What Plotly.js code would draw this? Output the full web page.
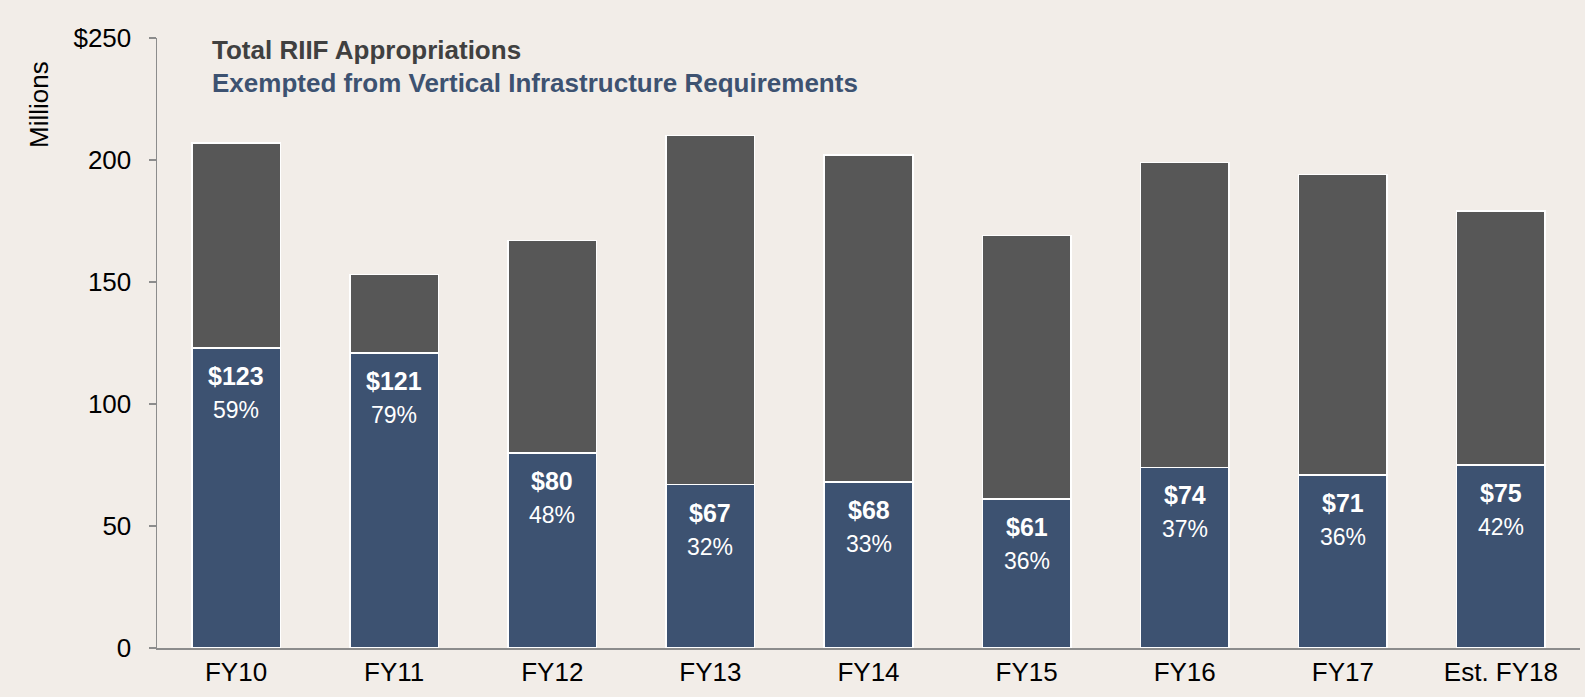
<!DOCTYPE html>
<html>
<head>
<meta charset="utf-8">
<script src="https://cdn.plot.ly/plotly-3.0.1.min.js"></script>
<style>
  body { margin: 0; background: #f2ede8; }
  #chart { width: 1585px; height: 697px; }
</style>
</head>
<body>
<div id="chart"></div>
<script>
// fiscal years on the x axis
var years = ['FY10', 'FY11', 'FY12', 'FY13', 'FY14', 'FY15', 'FY16', 'FY17', 'Est. FY18'];
// total RIIF appropriations, $ millions
var totals = [207, 153, 167, 210, 202, 169, 199, 194, 179];
// amount exempted from vertical infrastructure requirements, $ millions
var exempted = [123, 121, 80, 67, 68, 61, 74, 71, 75];
// share exempted as printed on the bars
var shares = ['59%', '79%', '48%', '32%', '33%', '36%', '37%', '36%', '42%'];

var blue = '#3d5271';
var gray = '#575757';

// the gray part is whatever is left above the exempted part
var rest = totals.map((t, i) => t - exempted[i]);

var traces = [
    {
        x: years,
        y: exempted,
        type: 'bar',
        name: 'Exempted from Vertical Infrastructure Requirements',
        marker: { color: blue, line: { color: '#ffffff', width: 1.5 } },
        hoverinfo: 'skip'
    },
    {
        x: years,
        y: rest,
        type: 'bar',
        name: 'Total RIIF Appropriations',
        marker: { color: gray, line: { color: '#ffffff', width: 1.5 } },
        hoverinfo: 'skip'
    }
];

// value and share labels inside the blue bars
var annotations = [];
years.forEach(function(yr, i) {
    annotations.push({
        x: yr, y: exempted[i], xref: 'x', yref: 'y',
        text: '<b>$' + exempted[i] + '</b>',
        showarrow: false, yanchor: 'middle', yshift: -28,
        font: { family: 'Liberation Sans, Arial, sans-serif', size: 25, color: '#ffffff' }
    });
    annotations.push({
        x: yr, y: exempted[i], xref: 'x', yref: 'y',
        text: shares[i],
        showarrow: false, yanchor: 'middle', yshift: -62,
        font: { family: 'Liberation Sans, Arial, sans-serif', size: 23, color: '#ffffff' }
    });
});

// legend written as two coloured lines at the top left
annotations.push({
    xref: 'paper', yref: 'paper', x: 0.037, y: 1.0, xanchor: 'left', yanchor: 'middle', yshift: -12,
    text: '<b>Total RIIF Appropriations</b>', showarrow: false,
    font: { family: 'Liberation Sans, Arial, sans-serif', size: 26, color: '#404040' }
});
annotations.push({
    xref: 'paper', yref: 'paper', x: 0.037, y: 1.0, xanchor: 'left', yanchor: 'middle', yshift: -45,
    text: '<b>Exempted from Vertical Infrastructure Requirements</b>', showarrow: false,
    font: { family: 'Liberation Sans, Arial, sans-serif', size: 26, color: blue }
});

// "Millions" unit label
annotations.push({
    xref: 'paper', yref: 'paper', x: 0, y: 1.0, xanchor: 'center', yanchor: 'middle',
    xshift: -118, yshift: -67, textangle: -90,
    text: 'Millions', showarrow: false,
    font: { family: 'Liberation Sans, Arial, sans-serif', size: 26, color: '#000000' }
});

var layout = {
    width: 1585,
    height: 697,
    barmode: 'stack',
    bargap: 0.44,
    showlegend: false,
    paper_bgcolor: '#f2ede8',
    plot_bgcolor: '#f2ede8',
    margin: { l: 157, r: 5, t: 38, b: 49 },
    font: { family: 'Liberation Sans, Arial, sans-serif', color: '#000000' },
    xaxis: {
        type: 'category',
        showline: true,
        linecolor: '#8c8c8c',
        linewidth: 1.5,
        ticks: '',
        tickfont: { size: 26, color: '#000000' },
        ticklabelstandoff: 0
    },
    yaxis: {
        range: [0, 250],
        tickvals: [0, 50, 100, 150, 200, 250],
        ticktext: ['0', '50', '100', '150', '200', '$250'],
        showgrid: false,
        zeroline: false,
        showline: true,
        linecolor: '#8c8c8c',
        linewidth: 1.5,
        ticks: 'outside',
        ticklen: 7,
        tickwidth: 1.5,
        tickcolor: '#8c8c8c',
        tickfont: { size: 26, color: '#000000' },
        ticklabelstandoff: 12
    },
    annotations: annotations
};

Plotly.newPlot('chart', traces, layout, { displayModeBar: false, staticPlot: true });
</script>
</body>
</html>
